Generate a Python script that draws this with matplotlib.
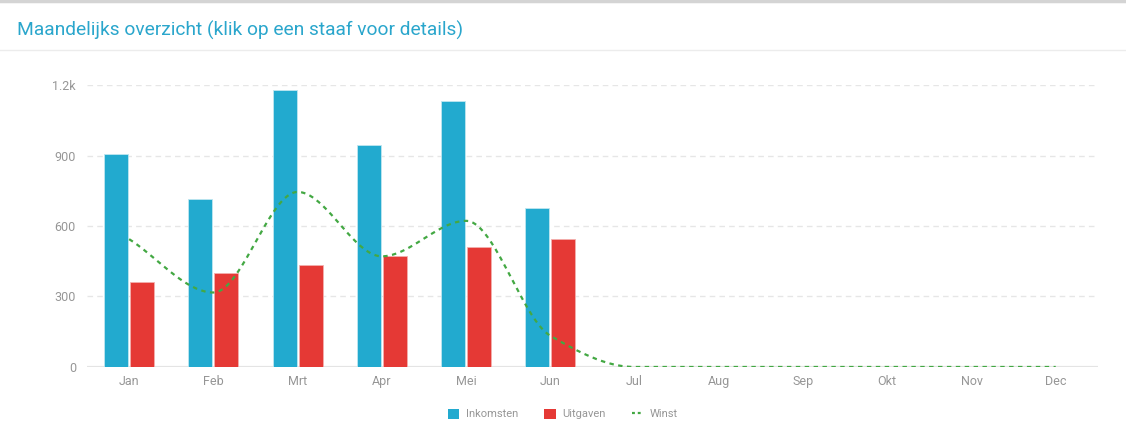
import numpy as np
import matplotlib.pyplot as plt
from matplotlib.lines import Line2D
from matplotlib.patches import Patch

plt.rcParams['font.family'] = ['Roboto', 'DejaVu Sans']

months = ['Jan', 'Feb', 'Mrt', 'Apr', 'Mei', 'Jun', 'Jul', 'Aug', 'Sep', 'Okt', 'Nov', 'Dec']
inkomsten = [906, 715, 1178, 943, 1131, 677, 0, 0, 0, 0, 0, 0]
uitgaven = [362, 398, 433, 472, 509, 544, 0, 0, 0, 0, 0, 0]
winst = [i - u for i, u in zip(inkomsten, uitgaven)]

blue = '#22aacf'
red = '#e53935'
green = '#43a843'
grey = '#969696'


def monotone(x, y, n=40):
    # Fritsch-Carlson monotone cubic, only for drawing the smooth line
    x = np.asarray(x, float)
    y = np.asarray(y, float)
    h = np.diff(x)
    d = np.diff(y) / h
    m = np.zeros_like(y)
    m[0], m[-1] = d[0], d[-1]
    for k in range(1, len(y) - 1):
        if d[k - 1] * d[k] > 0:
            w1 = 2 * h[k] + h[k - 1]
            w2 = h[k] + 2 * h[k - 1]
            m[k] = (w1 + w2) / (w1 / d[k - 1] + w2 / d[k])
    xs, ys = [], []
    for k in range(len(x) - 1):
        t = np.linspace(0, 1, n, endpoint=(k == len(x) - 2))
        h00 = 2 * t**3 - 3 * t**2 + 1
        h10 = t**3 - 2 * t**2 + t
        h01 = -2 * t**3 + 3 * t**2
        h11 = t**3 - t**2
        xs.append(x[k] + t * h[k])
        ys.append(h00 * y[k] + h10 * h[k] * m[k] + h01 * y[k + 1] + h11 * h[k] * m[k + 1])
    return np.concatenate(xs), np.concatenate(ys)


fig = plt.figure(figsize=(11.26, 4.32), dpi=100)
ax = fig.add_axes([0.0773, 0.1505, 0.8977, 0.6527])

x = np.arange(len(months))
w = 0.285
ax.bar(x - 0.154, inkomsten, w, color=blue, edgecolor='#bfe6f0', linewidth=0.6, zorder=3)
ax.bar(x + 0.154, uitgaven, w, color=red, edgecolor='#f3b0ae', linewidth=0.6, zorder=3)

sx, sy = monotone(x, winst)
ax.plot(sx, sy, color=green, lw=1.6, linestyle=(0, (2, 2)), zorder=4)

ax.set_xlim(-0.5, 11.5)
ax.set_ylim(0, 1200)
ax.set_yticks([0, 300, 600, 900, 1200])
ax.set_yticklabels(['0', '300', '600', '900', '1.2k'])
ax.set_xticks(x)
ax.set_xticklabels(months)
ax.tick_params(colors=grey, labelsize=9, length=0)
ax.tick_params(axis='y', pad=8)
ax.tick_params(axis='x', pad=6)
for s in ax.spines.values():
    s.set_visible(False)
for v in [300, 600, 900, 1200]:
    ax.axhline(v, color='#e6e6e6', lw=1, linestyle=(0, (4, 3)), zorder=1)
ax.axhline(0, color='#e4e4e4', lw=1.6, zorder=2)

handles = [Patch(facecolor=blue, label='Inkomsten'),
           Patch(facecolor=red, label='Uitgaven'),
           Line2D([0], [0], color=green, lw=1.6, linestyle=(0, (1.3, 1.3)), label='Winst')]
leg = fig.legend(handles=handles, loc='center', bbox_to_anchor=(0.5, 1 - 414 / 432), ncol=3,
                 frameon=False, fontsize=8, handlelength=1.0, handleheight=1.0,
                 columnspacing=2.4, handletextpad=0.6)
for t in leg.get_texts():
    t.set_color(grey)

fig.text(17 / 1126, 1 - 30 / 432, 'Maandelijks overzicht (klik op een staaf voor details)',
         color='#2aa6cc', fontsize=13.8, va='center', ha='left')
fig.add_artist(Line2D([0, 1], [1 - 1 / 432, 1 - 1 / 432], color='#d4d4d4', lw=2.5))
fig.add_artist(Line2D([0, 1], [1 - 50 / 432, 1 - 50 / 432], color='#ececec', lw=1))

fig.savefig('out.png', dpi=100)
